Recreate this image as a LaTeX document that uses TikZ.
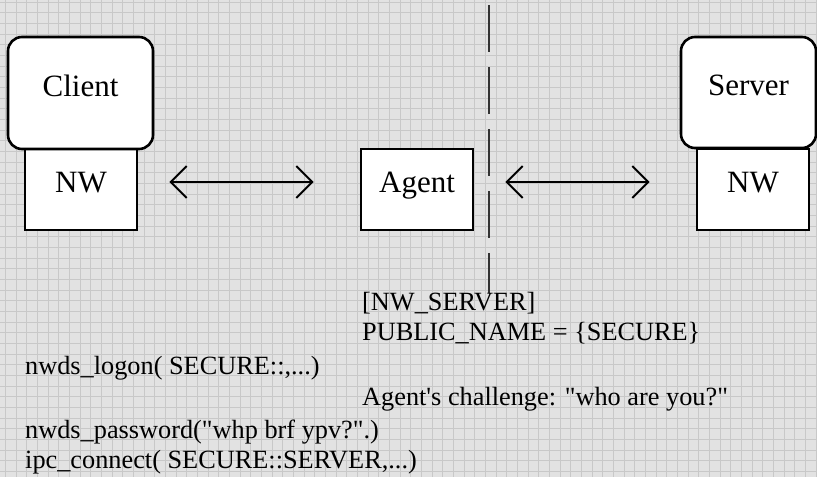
\documentclass[tikz,border=0pt]{standalone}
\usepackage{fontspec}
% plain serif face without TeX quote ligatures, so ' and " stay straight
\newfontfamily\figserif{Liberation Serif}
\usetikzlibrary{arrows.meta}
\definecolor{paper}{HTML}{E2E2E2}
\definecolor{rule}{HTML}{C8C8C8}
\definecolor{divider}{HTML}{333333}
\begin{document}
\begin{tikzpicture}[x=1pt,y=-1pt,
  gridline/.style={rule,line width=0.9pt},
  unitbox/.style={draw=black,fill=white,line width=2.6pt,inner sep=0pt,
    font=\figserif\fontsize{31}{36}\selectfont,text height=0.6em,text depth=0pt},
  hostbox/.style={unitbox,rounded corners=14pt},
  link/.style={line width=2pt,{Straight Barb[length=16pt,width=32pt]}-{Straight Barb[length=16pt,width=32pt]},
    shorten <=31pt,shorten >=46pt},
  codeline/.style={anchor=base west,inner sep=0pt,font=\figserif\fontsize{26.3}{30}\selectfont}]
\useasboundingbox (0,0) rectangle (817,477);
% squared paper
\fill[paper] (0,0) rectangle (817,477);
\foreach \i in {0,...,76} \draw[gridline] ({5.5+10.667*\i},0) -- ++(0,477);
\foreach \j in {0,...,44} \draw[gridline] (0,{2+10.667*\j}) -- ++(817,0);

% client side
\node[unitbox,minimum width=112pt,minimum height=81pt] (cnw) at (81,189.5) {NW};
\node[hostbox,minimum width=145pt,minimum height=112pt] (client) at (80.5,93) {Client};

% agent in the middle
\node[unitbox,minimum width=112pt,minimum height=81pt] (agent) at (417,189.5) {Agent};

% server side
\node[unitbox,minimum width=112pt,minimum height=81pt] (snw) at (753,189.5) {NW};
\node[hostbox,minimum width=135pt,minimum height=111pt] (server) at (748.5,92.5) {Server};

% links
\draw[link] ([yshift=7.5pt]cnw.east) -- ([yshift=7.5pt]agent.west);
\draw[link] ([yshift=7.5pt]agent.east) -- ([yshift=7.5pt]snw.west);

% security boundary
\coordinate (dtop) at (489,5);
\coordinate (dbot) at (489,293);
\draw[divider,line width=1.5pt,dash pattern=on 47pt off 15pt] (dtop) -- (dbot);

% configuration and call sequence
\node[codeline] (cfg1) at (362,310) {[NW\_SERVER]};
\node[codeline] (cfg2) at (362,340) {PUBLIC\_NAME = \{SECURE\}};
\node[codeline] (call1) at (25,374) {nwds\_logon( SECURE::,...)};
\node[codeline] (chal) at (362,405) {Agent's challenge: "who are you?"};
\node[codeline] (call2) at (25,438) {nwds\_password("whp brf ypv?".)};
\node[codeline] (call3) at (25,468) {ipc\_connect( SECURE::SERVER,...)};
\end{tikzpicture}
\end{document}
